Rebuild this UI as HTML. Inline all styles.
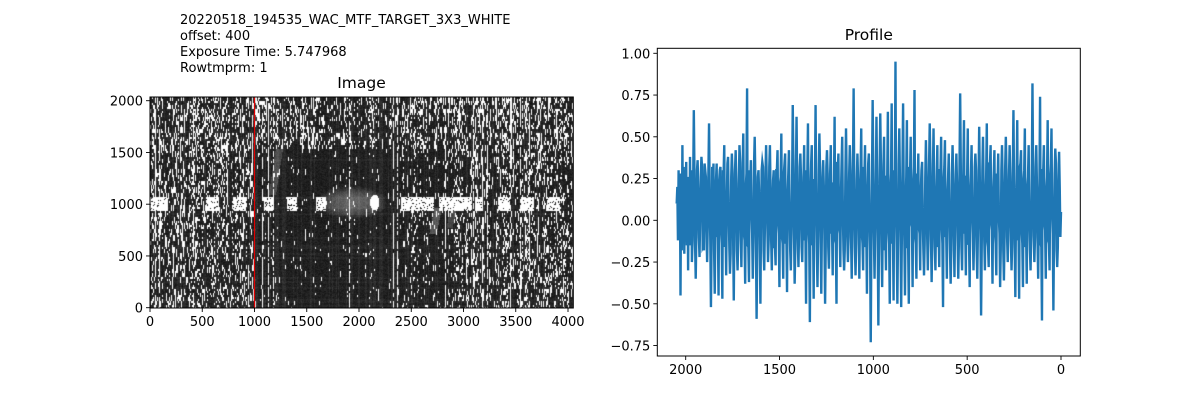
<!DOCTYPE html>
<html><head><meta charset="utf-8">
<style>
html,body{margin:0;padding:0;background:#fff;}
#wrap{position:relative;width:1200px;height:400px;overflow:hidden;font-family:"DejaVu Sans","Liberation Sans",sans-serif;}
svg text{font-family:"DejaVu Sans","Liberation Sans",sans-serif;fill:#000;}
canvas{position:absolute;left:150px;top:97px;}
</style></head>
<body>
<div id="wrap">
<canvas id="img" width="423" height="211"></canvas>
<svg id="svg" width="1200" height="400" style="position:absolute;left:0;top:0"></svg>
</div>
<script>
// ---- data ----
const imgXTicks = [0,500,1000,1500,2000,2500,3000,3500,4000];
const imgYTicks = [0,500,1000,1500,2000];
const markerColumn = 1000;
const profXTicks = [2000,1500,1000,500,0];
const profYTicks = [1.00,0.75,0.50,0.25,0.00,-0.25,-0.50,-0.75];
const profYLabels = ["1.00","0.75","0.50","0.25","0.00","\u22120.25","\u22120.50","\u22120.75"];
const headerLines = ["20220518_194535_WAC_MTF_TARGET_3X3_WHITE","offset: 400","Exposure Time: 5.747968","Rowtmprm: 1"];
const profileValues = [0.10,0.30,-0.45,0.45,-0.20,0.35,-0.30,0.38,-0.25,0.66,-0.35,0.36,-0.22,0.38,-0.15,0.30,-0.25,0.58,-0.52,0.20,-0.44,0.34,-0.45,0.32,-0.47,0.45,-0.33,0.38,-0.32,0.40,-0.48,0.42,-0.30,0.45,-0.28,0.52,-0.38,0.79,-0.37,0.36,-0.35,0.50,-0.59,0.30,-0.50,0.35,-0.30,0.45,-0.25,0.45,-0.30,0.30,-0.27,0.42,-0.40,0.52,-0.35,0.40,-0.43,0.42,-0.30,0.69,-0.38,0.62,-0.28,0.40,-0.25,0.45,-0.50,0.58,-0.61,0.45,-0.47,0.69,-0.40,0.52,-0.44,0.36,-0.50,0.42,-0.29,0.45,-0.33,0.62,-0.50,0.40,-0.28,0.50,-0.30,0.55,-0.25,0.45,-0.35,0.79,-0.33,0.40,-0.35,0.55,-0.30,0.45,-0.44,0.40,-0.73,0.72,-0.35,0.62,-0.63,0.64,-0.40,0.50,-0.30,0.65,-0.50,0.70,-0.48,0.95,-0.50,0.55,-0.52,0.70,-0.45,0.60,-0.50,0.50,-0.40,0.78,-0.35,0.40,-0.30,0.35,-0.33,0.48,-0.30,0.58,-0.37,0.55,-0.30,0.45,-0.28,0.50,-0.52,0.48,-0.35,0.40,-0.38,0.45,-0.34,0.40,-0.35,0.76,-0.30,0.60,-0.33,0.55,-0.40,0.45,-0.30,0.40,-0.35,0.56,-0.57,0.50,-0.30,0.58,-0.28,0.45,-0.38,0.42,-0.33,0.40,-0.40,0.45,-0.36,0.50,-0.25,0.45,-0.30,0.66,-0.46,0.60,-0.47,0.42,-0.40,0.55,-0.38,0.45,-0.30,0.82,-0.25,0.45,-0.35,0.74,-0.60,0.45,-0.35,0.60,-0.30,0.55,-0.54,0.43,-0.28,0.41,0.05];
const profileFill = [0.20,-0.10,0.25,-0.05,0.30,-0.15,0.22,0.05,-0.12,0.28,-0.08,0.18,0.02,0.32,-0.18,0.26,-0.02,0.15,-0.14,0.34,0.00,-0.10,0.24,-0.06,0.30,-0.16,0.12,0.08,-0.20,0.28,-0.04,0.22,-0.12,0.35,0.02,-0.08,0.20,-0.15,0.30,0.05,-0.10,0.26,-0.18,0.14,0.00,0.32,-0.06,0.24,-0.12,0.18,0.06,-0.16,0.30,-0.02,0.22,-0.10,0.28,-0.14,0.16,0.04,-0.08,0.34,-0.18,0.20,-0.04,0.26,0.02,-0.12,0.30,-0.06,0.18,-0.15,0.24,0.08,-0.10,0.32,-0.02,0.20,-0.16,0.28,0.00,-0.08,0.22,-0.12,0.35,-0.05,0.15,0.05,-0.18,0.26,-0.10,0.30,-0.02,0.20,-0.14,0.24,0.06,-0.08,0.32,-0.16,0.18,0.00,-0.12,0.28,-0.04,0.22,-0.10,0.34,0.02,-0.18,0.26,-0.06,0.20,-0.14,0.30,0.04,-0.08,0.24,-0.12,0.16,0.08,-0.16,0.32,-0.02,0.22,-0.10,0.28,-0.05,0.18,0.00,-0.14,0.26,-0.08,0.34,-0.12,0.20,0.05,-0.16,0.30,-0.04,0.24,-0.10,0.15,0.06,-0.18,0.28,-0.02,0.22,-0.12,0.32,0.00,-0.08,0.26,-0.14,0.18,0.04,-0.10,0.30,-0.06,0.24,-0.16,0.20,0.08,-0.12,0.34,-0.02,0.16,-0.08,0.28,0.02,-0.18,0.22,-0.10,0.30,-0.04,0.26,-0.14,0.18,0.06,-0.12,0.32,-0.06,0.24,-0.16,0.20,0.00,-0.08,0.28,-0.10,0.22,0.04,-0.14,0.30,-0.02,0.18,-0.12,0.26,0.05,-0.08,0.34,-0.16,0.20,-0.04,0.24,0.02,-0.10,0.28,-0.06,0.22,-0.12,0.30,0.08,-0.14,0.16,0.00,0.10];
const profileFill2 = [-0.12,0.28,-0.18,0.32,-0.08,0.26,-0.15,0.30,0.22,-0.14,0.30,-0.10,0.26,-0.16,0.34,-0.06,0.28,-0.12,0.32,-0.18,0.24,-0.08,0.30,-0.14,0.28,-0.04,0.34,-0.16,0.26,-0.10,0.30,-0.18,0.24,-0.06,0.32,-0.12,0.28,-0.16,0.22,-0.08,0.34,-0.14,0.26,-0.10,0.30,-0.18,0.28,-0.04,0.32,-0.12,0.24,-0.16,0.30,-0.08,0.26,-0.14,0.34,-0.10,0.28,-0.18,0.22,-0.06,0.30,-0.12,0.32,-0.16,0.26,-0.08,0.28,-0.14,0.34,-0.04,0.24,-0.18,0.30,-0.10,0.26,-0.12,0.32,-0.16,0.28,-0.06,0.22,-0.14,0.30,-0.08,0.34,-0.18,0.26,-0.10,0.28,-0.12,0.32,-0.16,0.24,-0.04,0.30,-0.14,0.26,-0.08,0.34,-0.18,0.28,-0.10,0.22,-0.12,0.30,-0.16,0.32,-0.06,0.26,-0.14,0.28,-0.08,0.24,-0.18,0.34,-0.10,0.30,-0.12,0.26,-0.16,0.28,-0.04,0.32,-0.14,0.22,-0.08,0.30,-0.18,0.26,-0.10,0.34,-0.12,0.28,-0.16,0.24,-0.06,0.30,-0.14,0.32,-0.08,0.26,-0.18,0.28,-0.10,0.22,-0.12,0.34,-0.16,0.30,-0.04,0.26,-0.14,0.28,-0.08,0.32,-0.18,0.24,-0.10,0.30,-0.12,0.26,-0.16,0.34,-0.06,0.28,-0.14,0.22,-0.08,0.30,-0.18,0.32,-0.10,0.26,-0.12,0.28,-0.16,0.24,-0.04,0.34,-0.14,0.30,-0.08,0.26,-0.18,0.28,-0.10,0.32,-0.12,0.22,-0.16,0.30,-0.06,0.26,-0.14,0.34,-0.08,0.28,-0.18,0.24,-0.10,0.30,-0.12,0.32,-0.16,0.26,-0.04,0.28,-0.14,0.22,-0.08,0.30,-0.18,0.34,-0.10,0.26,-0.12,0.28,0.05];

// ---- right axes (Profile) ----
const PL=657.3, PR=1080.3, PT=48.3, PB=356;
function px(v){ return 1061 + (685.7-1061)*(v/2000); }
function py(v){ return 220.3 - v*(41.75/0.25); }
// ---- left axes (Image) ----
const IL=150, IR=573.3, IT=97, IB=308;
function ix(v){ return 150 + v*0.1045; }
function iy(v){ return 307.7 - v*0.1035; }

const NS="http://www.w3.org/2000/svg";
const svg=document.getElementById('svg');
function mk(tag,attrs,parent){const e=document.createElementNS(NS,tag);for(const k in attrs)e.setAttribute(k,attrs[k]);(parent||svg).appendChild(e);return e;}

headerLines.forEach((t,i)=>{
  const e=mk('text',{x:180,y:24+i*16,'font-size':13});
  e.textContent=t;
  
  
});
let tt=mk('text',{x:361.5,y:88,'font-size':15.5,'text-anchor':'middle'});tt.textContent='Image';


tt=mk('text',{x:868.8,y:40,'font-size':15.5,'text-anchor':'middle'});tt.textContent='Profile';



let rl=mk('line',{x1:ix(markerColumn),x2:ix(markerColumn),y1:IT,y2:IB,stroke:'#e00000','stroke-width':1.2});



let fr=mk('rect',{x:IL,y:IT,width:IR-IL,height:IB-IT,fill:'none',stroke:'#000','stroke-width':1});


imgXTicks.forEach(v=>{
  const x=ix(v);
  mk('line',{x1:x,x2:x,y1:IB,y2:IB+4,stroke:'#000','stroke-width':0.9});
  const t=mk('text',{x:x,y:IB+18,'font-size':13,'text-anchor':'middle'});t.textContent=v;
  
  
});
imgYTicks.forEach(v=>{
  const y=iy(v);
  mk('line',{x1:IL-4,x2:IL,y1:y,y2:y,stroke:'#000','stroke-width':0.9});
  const t=mk('text',{x:IL-7,y:y+5,'font-size':13,'text-anchor':'end'});t.textContent=v;
  
  
});

const series=[];
profileValues.forEach((v,i)=>{
  series.push(v);
  if(i<profileValues.length-1){
    if(i<profileFill.length) series.push(profileFill[i]);
    if(i<profileFill2.length) series.push(profileFill2[i]);
  }
});
const n=series.length;
let d='';
series.forEach((v,i)=>{
  const xv=2048 - i*2048/(n-1);
  d+=(i?'L':'M')+px(xv).toFixed(2)+' '+py(v).toFixed(2);
});
let pl=mk('path',{d:d,fill:'none',stroke:'#1f77b4','stroke-width':2.4,'stroke-linejoin':'miter','stroke-miterlimit':10});


fr=mk('rect',{x:PL,y:PT,width:PR-PL,height:PB-PT,fill:'none',stroke:'#000','stroke-width':1});


profXTicks.forEach(v=>{
  const x=px(v);
  mk('line',{x1:x,x2:x,y1:PB,y2:PB+4,stroke:'#000','stroke-width':0.9});
  const t=mk('text',{x:x,y:PB+18,'font-size':13,'text-anchor':'middle'});t.textContent=v;
  
  
});
profYTicks.forEach((v,i)=>{
  const y=py(v);
  mk('line',{x1:PL-4,x2:PL,y1:y,y2:y,stroke:'#000','stroke-width':0.9});
  const t=mk('text',{x:PL-7,y:y+5,'font-size':13,'text-anchor':'end'});t.textContent=profYLabels[i];
  
  
});

// ---- image raster (texture) ----
function h(a,b){let x=Math.imul(a|0,374761393)+Math.imul(b|0,668265263)|0;x=Math.imul(x^(x>>>13),1274126177);x=x^(x>>>16);x=Math.imul(x,2246822519);x^=x>>>13;return (x>>>0)/4294967296;}
const cv=document.getElementById('img'),ctx=cv.getContext('2d');
const W=cv.width,H=cv.height,im=ctx.createImageData(W,H);
const blobs=[[40,60],[120,50],[600,60],[860,60],[1150,50],[1370,50],[1650,45],[2470,45],[2560,110],[2680,60],[2900,110],[3050,60],[3180,40],[3420,60],[3650,60],[3900,60]];
for(let y=0;y<H;y++)for(let x=0;x<W;x++){
  const X=x/0.1033, Y=(H-y)/0.1030;
  const cy=y>>1;
  let g=20+h(x,y*7+3)*22;
  if(h(x,999)<0.3) g+=12;
  if(h(999,cy)<0.2) g+=8;
  let p;
  const centre = X>1000 && X<2400 && Y<1550;
  const mid = X>=2400 && X<2950 && Y<1550;
  if(centre) p=0.04; else if(mid) p=0.12; else p=0.26;
  if(Y>1550) p=(X>1700&&X<2400)?0.22:0.34;
  const cf=h(x,17);
  p*=(0.3+1.3*cf);
  if(cf>0.95) p=0.75;
  const run=1+Math.floor(h(x,41)*3);
  let w = h(x*3+1,Math.floor(cy/run)*5+2)<p;
  const gd=((X-1950)/350)**2+((Y-1030)/160)**2;
  if(gd<1) g+=(1-gd)*70;
  const s1=Math.abs(X-(1180+(Y-1100)*0.15)); if(Y>1100&&Y<1550&&s1<35) g+=40;
  const s2=Math.abs(X-(2740+(Y-750)*0.2)); if(Y>720&&Y<980&&s2<35) g+=55;
  const s3=Math.abs(X-(2900+(Y-800)*0.2)); if(Y>780&&Y<1020&&s3<30) g+=40;
  if(Y>950&&Y<1080){
    for(const b of blobs){ if(Math.abs(X-b[0])<b[1] && h(x,y+11)<0.85) w=true; }
  }
  const md=((X-2170)/45)**2+((Y-1030)/75)**2;
  if(md<1 && X>2125) w=true; else if(md<1) g+=90;
  const v=w?255:Math.min(255,g);
  const k=(y*W+x)*4; im.data[k]=im.data[k+1]=im.data[k+2]=v; im.data[k+3]=255;
}
ctx.putImageData(im,0,0);
</script>
</body></html>
